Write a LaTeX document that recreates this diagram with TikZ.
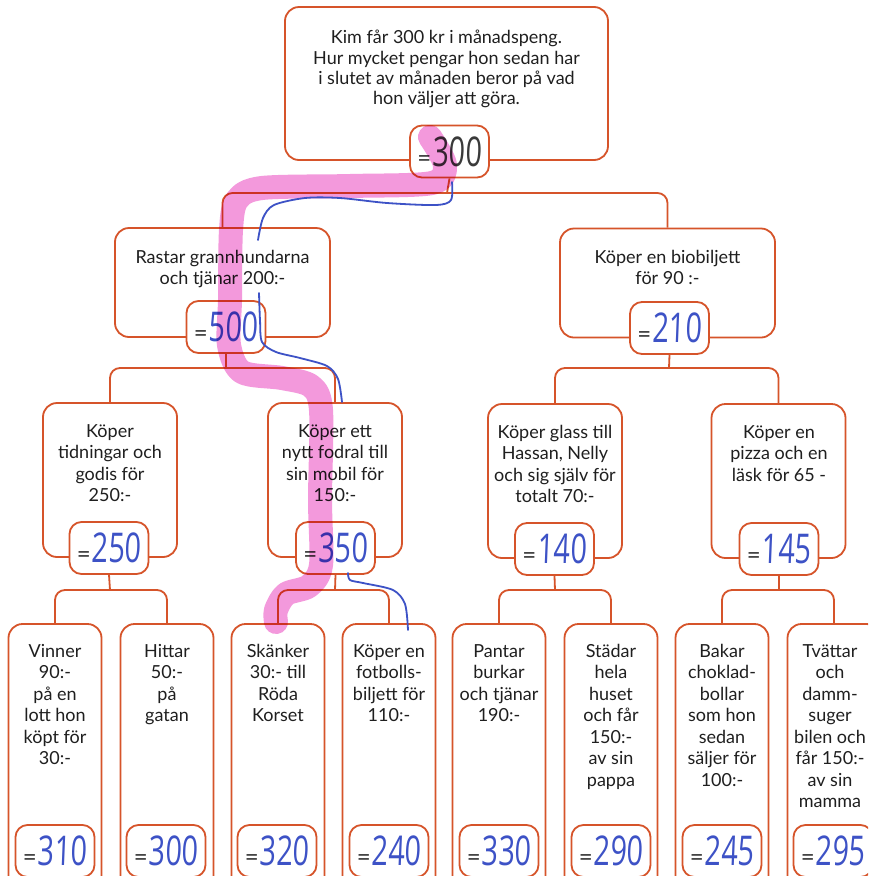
\documentclass[tikz,border=0pt]{standalone}
\usepackage{fontspec}
\setmainfont{Lato}
\newfontfamily\handfont{Open Sans}[FakeStretch=0.7,FakeSlant=0.04]
\definecolor{frame}{HTML}{D6542A}
\definecolor{pen}{HTML}{3D52C6}
\definecolor{marker}{HTML}{F288D6}
\definecolor{pencil}{HTML}{3A3A3A}
\newcommand{\eqs}{{\color{black!80}\fontsize{24}{24}\selectfont=}\hspace{1pt}}
\newcommand{\hw}[1]{{\color{pen}\handfont\fontsize{41}{41}\selectfont #1}}
\tikzset{
  box/.style={draw=frame, line width=1.8pt, rounded corners=14pt, fill=white, inner sep=0pt},
  topbox/.style={box, minimum width=323pt, minimum height=153pt},
  lonebox/.style={box, minimum width=215pt, minimum height=109pt},
  ltwobox/.style={box, minimum width=134pt, minimum height=154pt},
  lthreebox/.style={box, minimum width=93pt, minimum height=266pt},
  valbox/.style={draw=frame, line width=1.8pt, rounded corners=12pt, fill=white,
     minimum width=79pt, minimum height=52pt, inner sep=0pt},
  conn/.style={draw=frame, line width=1.8pt, rounded corners=10pt},
  txt/.style={align=center, font=\fontsize{18}{21.5}\selectfont, inner sep=0pt, anchor=north, text=black!88},
  markerline/.style={draw=marker, line width=24pt, blend mode=multiply, opacity=0.85, line cap=round, line join=round},
  penline/.style={draw=pen, line width=1.8pt, line cap=round, line join=round}
}
\begin{document}
\begin{tikzpicture}[x=1pt,y=-1pt]
\clip (0,0) rectangle (868,876);
\fill[white] (0,0) rectangle (868,876);

% bar coordinates
\coordinate (b0) at (447,193);
\coordinate (b1a) at (226,368);
\coordinate (b1b) at (669,368);
\coordinate (b2a) at (110,590);
\coordinate (b2b) at (335,590);
\coordinate (b2c) at (555,590);
\coordinate (b2d) at (779,590);

% boxes
\node[topbox] (top) at (446.5,83.5) {};
\node[lonebox] (A) at (222.5,282.5) {};
\node[lonebox] (B) at (667.5,283) {};
\node[ltwobox] (AA) at (110,480) {};
\node[ltwobox] (AB) at (335,480) {};
\node[ltwobox] (BA) at (555,481) {};
\node[ltwobox] (BB) at (778.5,481) {};
\node[lthreebox] (c1) at (55,757) {};
\node[lthreebox] (c2) at (167,757) {};
\node[lthreebox] (c3) at (278,757) {};
\node[lthreebox] (c4) at (389,757) {};
\node[lthreebox] (c5) at (499,757) {};
\node[lthreebox] (c6) at (611,757) {};
\node[lthreebox] (c7) at (722,757) {};
\node[lthreebox] (c8) at (834,757) {};

% value boxes
\node[valbox] (v0) at (449.5,151.5) {\eqs{\color{pencil}\handfont\fontsize{41}{41}\selectfont 300}};
\node[valbox] (vA) at (226,327) {\eqs\hw{500}};
\node[valbox] (vB) at (669.5,328) {\eqs\hw{210}};
\node[valbox] (vAA) at (109,548) {\eqs\hw{250}};
\node[valbox] (vAB) at (335.5,548) {\eqs\hw{350}};
\node[valbox] (vBA) at (554.5,549) {\eqs\hw{140}};
\node[valbox] (vBB) at (779,549) {\eqs\hw{145}};
\node[valbox] (w1) at (55,851) {\eqs\hw{310}};
\node[valbox] (w2) at (166,851) {\eqs\hw{300}};
\node[valbox] (w3) at (277,851) {\eqs\hw{320}};
\node[valbox] (w4) at (389,851) {\eqs\hw{240}};
\node[valbox] (w5) at (499,851) {\eqs\hw{330}};
\node[valbox] (w6) at (611,851) {\eqs\hw{290}};
\node[valbox] (w7) at (722,851) {\eqs\hw{245}};
\node[valbox] (w8) at (833,851) {\eqs\hw{295}};

% connectors
\draw[conn] (v0.south) -- (b0);
\draw[conn] (A.north) |- (b0) -| (B.north);
\draw[conn] (vA.south) -- (b1a);
\draw[conn] (AA.north) |- (b1a) -| (AB.north);
\draw[conn] (vB.south) -- (b1b);
\draw[conn] (BA.north) |- (b1b) -| (BB.north);
\draw[conn] (vAA.south) -- (b2a);
\draw[conn] (c1.north) |- (b2a) -| (c2.north);
\draw[conn] (vAB.south) -- (b2b);
\draw[conn] (c3.north) |- (b2b) -| (c4.north);
\draw[conn] (vBA.south) -- (b2c);
\draw[conn] (c5.north) |- (b2c) -| (c6.north);
\draw[conn] (vBB.south) -- (b2d);
\draw[conn] (c7.north) |- (b2d) -| (c8.north);

% texts
\node[txt, font=\fontsize{18}{20.3}\selectfont] (ttop) at (446.5,30) {Kim får 300 kr i månadspeng.\\Hur mycket pengar hon sedan har\\i slutet av månaden beror på vad\\hon väljer att göra.};
\node[txt] (tA) at (222.5,250) {Rastar grannhundarna\\och tjänar 200:-};
\node[txt] (tB) at (667.5,250) {Köper en biobiljett\\för 90 :-};
\node[txt] (tAA) at (110,424) {Köper\\tidningar och\\godis för\\250:-};
\node[txt] (tAB) at (335,424) {Köper ett\\nytt fodral till\\sin mobil för\\150:-};
\node[txt] (tBA) at (555,425) {Köper glass till\\Hassan, Nelly\\och sig själv för\\totalt 70:-};
\node[txt] (tBB) at (779,425) {Köper en\\pizza och en\\läsk för 65 -};
\node[txt] (t1) at (55,644) {Vinner\\90:-\\på en\\lott hon\\köpt för\\30:-};
\node[txt] (t2) at (167,644) {Hittar\\50:-\\på\\gatan};
\node[txt] (t3) at (278,644) {Skänker\\30:- till\\Röda\\Korset};
\node[txt] (t4) at (389,644) {Köper en\\fotbolls-\\biljett för\\110:-};
\node[txt] (t5) at (499,644) {Pantar\\burkar\\och tjänar\\190:-};
\node[txt] (t6) at (611,644) {Städar\\hela\\huset\\och får\\150:-\\av sin\\pappa};
\node[txt] (t7) at (722,644) {Bakar\\choklad-\\bollar\\som hon\\sedan\\säljer för\\100:-};
\node[txt] (t8) at (830,644) {Tvättar\\och\\damm-\\suger\\bilen och\\får 150:-\\av sin\\mamma};

% highlighter path
\draw[markerline] plot[smooth, tension=0.5] coordinates {(430,137) (445,165) (432,183) (350,186) (262,188) (237,200) (231,230) (230,300) (229,345) (242,372) (282,378) (311,386) (321,410) (320,500) (321,565) (309,586) (286,594) (276,610) (276,622)};

% pen lines
\draw[penline] plot[smooth, tension=0.5] coordinates {(452,182) (451,200) (436,205) (387,203) (340,198) (305,198) (274,205) (263,218) (258,240)};
\draw[penline] plot[smooth, tension=0.5] coordinates {(259,293) (260,320) (262,342) (276,352) (300,358) (327,366) (338,379) (342,402)};
\draw[penline] plot[smooth, tension=0.5] coordinates {(348,573) (350,580) (363,583) (393,590) (405,604) (408,630)};
\end{tikzpicture}
\end{document}
